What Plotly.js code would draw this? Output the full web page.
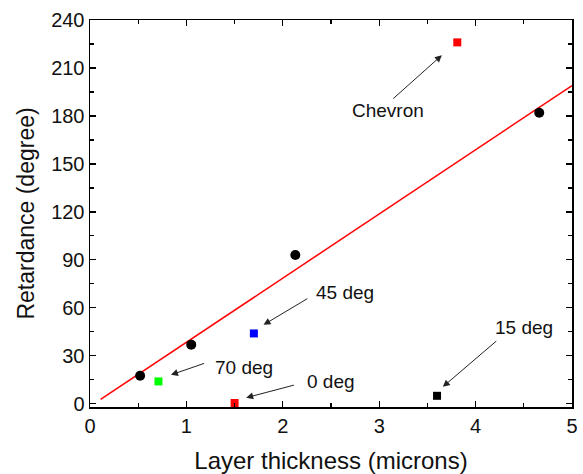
<!DOCTYPE html>
<html>
<head>
<meta charset="utf-8">
<script src="https://cdn.plot.ly/plotly-3.0.1.min.js"></script>
<style>html,body{margin:0;padding:0;background:#fff;}#chart{width:583px;height:474px;}</style>
</head>
<body>
<div id="chart"></div>
<script>
// Black circles (measured points)
const circleX = [0.52, 1.05, 2.13, 4.66];
const circleY = [17.5, 37, 93, 182];

// Coloured squares (orientations)
const squareLabels = ['70 deg', '0 deg', '45 deg', '15 deg', 'Chevron'];
const squareX = [0.71, 1.50, 1.70, 3.60, 3.81];
const squareY = [14, 0.5, 44, 5, 226];
const squareColors = ['#00ff00', '#ff0000', '#0000ff', '#000000', '#ff0000'];

// Linear fit line
const fitX = [0.11, 5.0];
const fitY = [2.7, 199];

const xTickVals = [0, 1, 2, 3, 4, 5];
const yTickVals = [0, 30, 60, 90, 120, 150, 180, 210, 240];

const font = 'Liberation Sans, Arial, sans-serif';

const traces = [
  {x: fitX, y: fitY, mode: 'lines', line: {color: '#ff0000', width: 1.5}, hoverinfo: 'skip'},
  {x: circleX, y: circleY, mode: 'markers', marker: {symbol: 'circle', size: 10, color: '#000'}},
  {x: squareX, y: squareY, mode: 'markers', text: squareLabels,
   marker: {symbol: 'square', size: 8, color: squareColors}}
];

// arrow annotations: [label, textX, textY, tailX, tailY, headX, headY]
const notes = [
  ['Chevron', 3.09, 183.5, 3.13, 190, 3.65, 218],
  ['45 deg', 2.65, 69.5, 2.27, 66.3, 1.80, 49.4],
  ['70 deg', 1.60, 23, 1.20, 25.6, 0.84, 18.1],
  ['0 deg', 2.50, 13.8, 2.13, 11.9, 1.62, 3.8],
  ['15 deg', 4.50, 47.5, 4.23, 40, 3.66, 10.6]
];
const annotations = [];
notes.forEach(n => {
  annotations.push({x: n[1], y: n[2], xref: 'x', yref: 'y', text: n[0], showarrow: false,
    font: {family: font, size: 19, color: '#111'}});
  annotations.push({x: n[5], y: n[6], ax: n[3], ay: n[4], xref: 'x', yref: 'y', axref: 'x', ayref: 'y',
    text: '', showarrow: true, arrowhead: 2, arrowsize: 1.4, arrowwidth: 1, arrowcolor: '#222'});
});

const axisCommon = {
  showline: true, linecolor: '#000', linewidth: 1.5, mirror: 'allticks',
  ticks: 'inside', ticklen: 6, tickwidth: 1.2, tickcolor: '#000',
  showgrid: false, zeroline: false,
  tickfont: {family: font, size: 20, color: '#111'}
};

const layout = {
  width: 583, height: 474,
  margin: {l: 90, r: 11, t: 20, b: 67},
  paper_bgcolor: '#fff', plot_bgcolor: '#fff',
  showlegend: false,
  font: {family: font},
  xaxis: Object.assign({}, axisCommon, {
    range: [0, 5], tickvals: xTickVals, ticktext: xTickVals.map(String),
    minor: {dtick: 0.5, ticks: 'inside', ticklen: 4, tickwidth: 1.2, tickcolor: '#000'},
    title: {text: 'Layer thickness (microns)', font: {family: font, size: 24, color: '#111'}, standoff: 17}
  }),
  yaxis: Object.assign({}, axisCommon, {
    range: [-2, 240], tickvals: yTickVals, ticktext: yTickVals.map(String),
    minor: {dtick: 15, tick0: 0, ticks: 'inside', ticklen: 4, tickwidth: 1.2, tickcolor: '#000'},
    title: {text: 'Retardance (degree)', font: {family: font, size: 23, color: '#111'}, standoff: 10}
  }),
  annotations: annotations
};

Plotly.newPlot('chart', traces, layout, {displayModeBar: false, staticPlot: true});
</script>
</body>
</html>
